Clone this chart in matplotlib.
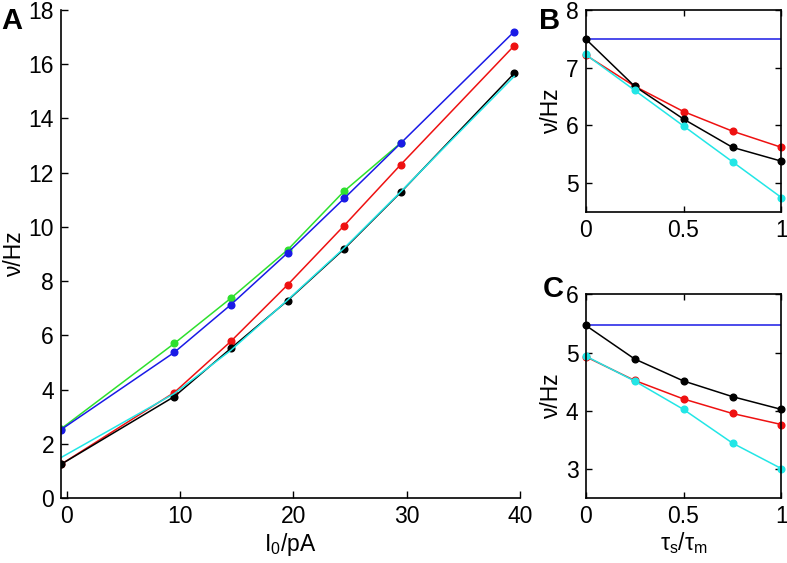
import matplotlib
matplotlib.use("Agg")
import matplotlib.pyplot as plt

plt.rcParams['font.family'] = ['Liberation Sans', 'DejaVu Sans']
plt.rcParams['mathtext.fontset'] = 'custom'
plt.rcParams['mathtext.rm'] = 'Liberation Sans'
plt.rcParams['mathtext.it'] = 'Liberation Sans'

# Panel A data
I0 = [-0.5, 9.5, 14.5, 19.5, 24.5, 29.5, 39.5]
green_A = [2.55, 5.70, 7.37, 9.15, 11.32, 13.10]
blue_A = [2.52, 5.37, 7.13, 9.04, 11.05, 13.09, 17.20]
red_A = [1.24, 3.89, 5.78, 7.86, 10.05, 12.30, 16.68]
black_A = [1.24, 3.74, 5.52, 7.28, 9.19, 11.28, 15.66]
cyan_A = [1.49, 3.85, 5.45, 7.30, 9.22, 11.30, 15.55]

# Panel B data
ratio = [0, 0.25, 0.5, 0.75, 1.0]
blue_B = [7.50, 7.50, 7.50, 7.50, 7.50]
black_B = [7.50, 6.68, 6.11, 5.62, 5.38]
red_B = [7.22, 6.68, 6.24, 5.90, 5.62]
cyan_B = [7.23, 6.61, 5.99, 5.37, 4.75]

# Panel C data
blue_C = [5.47, 5.47, 5.47, 5.47, 5.47]
black_C = [5.47, 4.89, 4.51, 4.24, 4.02]
red_C = [4.93, 4.52, 4.20, 3.95, 3.76]
cyan_C = [4.94, 4.51, 4.02, 3.44, 3.00]

GREEN = '#2ee02e'
BLUE = '#1a1ae6'
RED = '#ee1111'
BLACK = '#000000'
CYAN = '#22e6e6'

fs = 16.5
ms = 4.8
lw = 1.1

fig = plt.figure(figsize=(7.87, 5.63), dpi=100)

# Panel A
axA = fig.add_axes([0.0775, 0.1155, 0.583, 0.8668])
axA.plot(I0[:6], green_A, '-o', color=GREEN, ms=ms, lw=lw)
axA.plot(I0, blue_A, '-o', color=BLUE, ms=ms, lw=lw)
axA.plot(I0, red_A, '-o', color=RED, ms=ms, lw=lw)
axA.plot(I0, black_A, '-o', color=BLACK, ms=ms, lw=lw)
axA.plot(I0, cyan_A, '-', color=CYAN, lw=lw)
axA.set_xlim(-0.5, 40)
axA.set_ylim(0, 18)
axA.set_xticks([0, 10, 20, 30, 40])
axA.set_yticks(range(0, 19, 2))
axA.spines['top'].set_visible(False)
axA.spines['right'].set_visible(False)
axA.set_xlabel(r'I$_0$/pA', fontsize=fs, labelpad=2)
axA.set_ylabel('ν/Hz', fontsize=fs, labelpad=2)
axA.tick_params(direction='in', labelsize=fs, length=5, width=1, pad=5)
for s in axA.spines.values():
    s.set_linewidth(1.2)
fig.text(0.002, 0.988, 'A', fontsize=21, fontweight='bold', va='top', ha='left')

def side_panel(rect, blue, black, red, cyan, ylim, yticks, xlabel, letter, lpos):
    ax = fig.add_axes(rect)
    ax.plot(ratio, blue, '-', color=BLUE, lw=lw)
    ax.plot(ratio, red, '-o', color=RED, ms=ms, lw=lw, clip_on=False)
    ax.plot(ratio, black, '-o', color=BLACK, ms=ms, lw=lw, clip_on=False)
    ax.plot(ratio, cyan, '-o', color=CYAN, ms=ms, lw=lw, clip_on=False)
    ax.set_xlim(0, 1)
    ax.set_ylim(*ylim)
    ax.set_xticks([0, 0.5, 1])
    ax.set_xticklabels(['0', '0.5', '1'])
    ax.set_yticks(yticks)
    ax.set_ylabel('ν/Hz', fontsize=fs, labelpad=2)
    if xlabel:
        ax.set_xlabel(xlabel, fontsize=fs, labelpad=2)
    ax.tick_params(direction='in', labelsize=fs, length=4, width=1,
                   top=True, right=True, pad=5)
    for s in ax.spines.values():
        s.set_linewidth(1.2)
    fig.text(lpos[0], lpos[1], letter, fontsize=21, fontweight='bold', va='top', ha='left')
    return ax

side_panel([0.744, 0.6234, 0.249, 0.359], blue_B, black_B, red_B, cyan_B,
           (4.5, 8), [5, 6, 7, 8], None, 'B', (0.685, 0.988))
side_panel([0.744, 0.116, 0.249, 0.361], blue_C, black_C, red_C, cyan_C,
           (2.5, 6), [3, 4, 5, 6], r'τ$_s$/τ$_m$', 'C', (0.690, 0.512))

fig.savefig('out.png', dpi=100)
